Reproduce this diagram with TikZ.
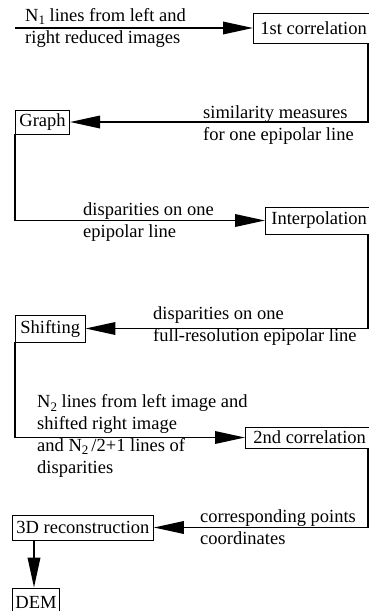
\documentclass[tikz,border=0pt]{standalone}
\usepackage{fontspec}
\setmainfont{Liberation Serif}
\usetikzlibrary{arrows.meta}
\newcommand\lowsub[1]{\raisebox{-0.4ex}{\fontsize{13}{13}\selectfont #1}}
\begin{document}
\begin{tikzpicture}[x=1pt,y=-1pt,
  box/.style={draw,line width=0.8pt,inner ysep=0pt,anchor=west,font=\fontsize{18.5}{22}\selectfont},
  lbl/.style={anchor=base west,align=left,inner sep=0pt,font=\fontsize{18.5}{22}\selectfont},
  flow/.style={line width=1.8pt,-{Triangle[length=30pt,width=12.5pt]}},
]
\useasboundingbox (0,0) rectangle (369,611);
% boxes
\node[box,inner xsep=7pt,minimum height=30pt] (c1) at (253,28) {1st correlation};
\node[box,inner xsep=4pt,minimum height=24pt] (graph) at (15,122) {Graph};
\node[box,inner xsep=6pt,minimum height=27pt] (interp) at (265,220.5) {Interpolation};
\node[box,inner xsep=5pt,minimum height=27pt] (shift) at (15,328.5) {Shifting};
\node[box,inner xsep=8pt,minimum height=21pt] (c2) at (245,437.5) {2nd correlation};
\node[box,inner xsep=4pt,minimum height=25pt] (rec) at (12,527.5) {3D reconstruction};
\node[box,inner xsep=3pt,minimum height=28pt] (dem) at (12,602) {DEM};
% helper coordinates
\coordinate (in) at (15,28);
\coordinate (R) at (368,0);
\coordinate (D) at (34,0);
% connectors
\draw[flow] (in) -- (c1.west);
\draw[flow] (c1.south -| R) -- (R |- graph.east) -- (graph.east);
\draw[flow] (graph.south west) -- (graph.south west |- interp.west) -- (interp.west);
\draw[flow] (interp.south -| R) -- (R |- shift.east) -- (shift.east);
\draw[flow] (shift.south west) -- (shift.south west |- c2.west) -- (c2.west);
\draw[flow] (c2.south -| R) -- (R |- rec.east) -- (rec.east);
\draw[flow] (rec.south -| D) -- (dem.north -| D);
% labels (base = baseline of last line)
\node[lbl] (l1) at (25,43) {N\lowsub{1} lines from left and\\right reduced images};
\node[lbl] (l2) at (203,140) {similarity measures\\for one epipolar line};
\node[lbl] (l3) at (83,237) {disparities on one\\epipolar line};
\node[lbl] (l4) at (153,341) {disparities on one\\full-resolution epipolar line};
\node[lbl,font=\fontsize{18.5}{21.7}\selectfont] (l5) at (37,473) {N\lowsub{2} lines from left image and\\shifted right image\\and N\lowsub{2}\,/2+1 lines of\\disparities};
\node[lbl] (l6) at (200,544) {corresponding points\\coordinates};
\end{tikzpicture}
\end{document}
